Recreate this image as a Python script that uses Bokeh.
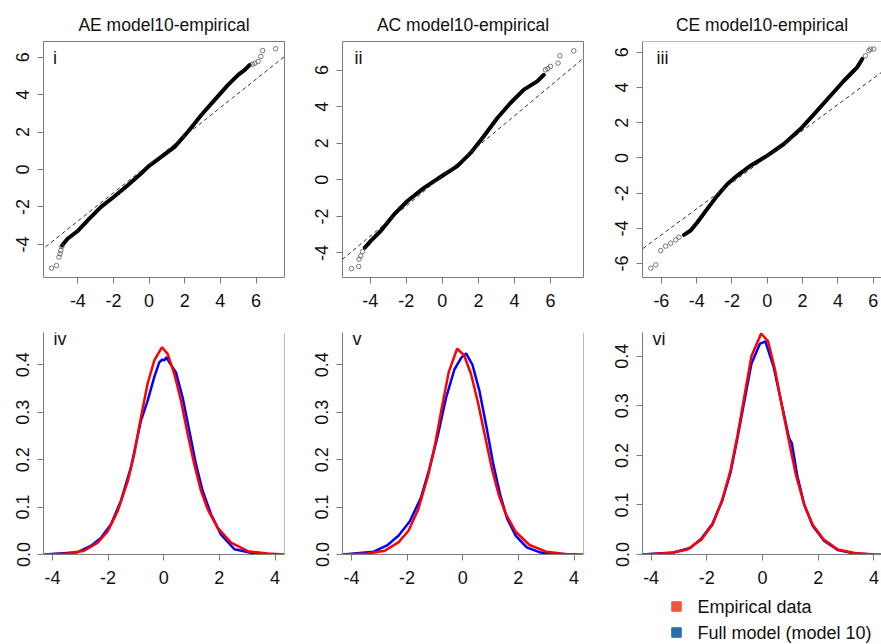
from bokeh.plotting import figure
from bokeh.models import (Range1d, FixedTicker, CustomJSTickFormatter, Slope, Label, Span, Spacer)
from bokeh.layouts import column, row
from bokeh.embed import file_html
from bokeh.resources import INLINE
from bokeh.core.properties import value

FONT = "Liberation Sans"
BOX = "#7a7a7a"
TXT = "#111111"

# ---------------- data ----------------
titles = ["AE model10-empirical", "AC model10-empirical", "CE model10-empirical"]
qq_tags = ["i", "ii", "iii"]
dens_tags = ["iv", "v", "vi"]

# QQ panel i (AE): dense band and sparse tail points (theoretical x, empirical y)
ae_band_x = [-4.89, -4.58, -4.03, -3.45, -2.70, -1.99, -1.20, -0.45, 0.0, 0.68, 1.43, 2.18, 2.93, 3.68, 4.43, 5.00, 5.37, 5.65]
ae_band_y = [-4.06, -3.70, -3.30, -2.72, -2.00, -1.47, -0.84, -0.21, 0.20, 0.68, 1.21, 2.02, 2.91, 3.72, 4.52, 5.06, 5.32, 5.59]
ae_tail_x = [-5.48, -5.20, -5.06, -5.00, -4.96, -4.90, 5.80, 5.93, 6.12, 6.27, 6.37, 7.10]
ae_tail_y = [-5.27, -5.13, -4.68, -4.50, -4.33, -4.11, 5.62, 5.68, 5.77, 6.04, 6.36, 6.45]
ae_line = (0.758, 0.276)   # slope, intercept of reference line

# QQ panel ii (AC)
ac_band_x = [-4.30, -3.97, -3.42, -2.68, -1.94, -1.02, 0.0, 0.83, 1.57, 2.30, 3.05, 3.78, 4.52, 5.26, 5.63]
ac_band_y = [-3.71, -3.34, -2.80, -1.89, -1.16, -0.44, 0.22, 0.75, 1.47, 2.38, 3.38, 4.20, 4.93, 5.38, 5.74]
ac_tail_x = [-5.04, -4.64, -4.62, -4.53, -4.43, 5.72, 5.85, 6.00, 6.42, 6.52, 7.29]
ac_tail_y = [-4.85, -4.74, -4.34, -4.16, -3.92, 6.01, 6.08, 6.20, 6.38, 6.78, 7.05]
ac_line = (0.822, 0.21)

# QQ panel iii (CE)
ce_band_x = [-4.72, -4.34, -3.96, -3.40, -2.83, -2.26, -1.70, -0.95, 0.0, 0.94, 1.88, 2.83, 3.58, 4.34, 4.90, 5.09, 5.38]
ce_band_y = [-4.37, -4.12, -3.65, -2.89, -2.14, -1.48, -1.00, -0.44, 0.13, 0.79, 1.64, 2.68, 3.53, 4.38, 4.95, 5.14, 5.62]
ce_tail_x = [-6.60, -6.32, -6.04, -5.76, -5.47, -5.19, -5.00, 5.56, 5.75, 5.85, 6.03]
ce_tail_y = [-6.26, -6.07, -5.26, -5.01, -4.84, -4.65, -4.50, 5.80, 6.09, 6.18, 6.18]
ce_line = (0.74, 0.07)

qq_x_ticks = [[-4, -2, 0, 2, 4, 6], [-4, -2, 0, 2, 4, 6], [-6, -4, -2, 0, 2, 4, 6]]
qq_y_ticks = [[-4, -2, 0, 2, 4, 6], [-4, -2, 0, 2, 4, 6], [-6, -4, -2, 0, 2, 4, 6]]
qq_x_ranges = [(-5.93, 7.60), (-5.54, 7.83), (-7.07, 6.47)]
qq_y_ranges = [(-5.77, 6.84), (-5.34, 7.56), (-6.79, 6.61)]

# Density panels: empirical (red) and full model (blue)
ae_emp_x = [-4.28, -3.45, -2.86, -2.37, -2.01, -1.65, -1.29, -1.06, -0.82, -0.58, -0.34, -0.06, 0.14, 0.38, 0.62, 0.86, 1.10, 1.34, 1.58, 1.94, 2.42, 3.02, 3.74, 4.33]
ae_emp_y = [0.0, 0.002, 0.008, 0.025, 0.049, 0.092, 0.155, 0.212, 0.289, 0.360, 0.409, 0.437, 0.423, 0.381, 0.324, 0.254, 0.190, 0.134, 0.095, 0.056, 0.025, 0.007, 0.002, 0.0]
ae_mod_x = [-4.28, -3.09, -2.62, -2.26, -1.90, -1.54, -1.18, -0.82, -0.58, -0.34, -0.16, -0.05, 0.02, 0.10, 0.20, 0.44, 0.68, 0.92, 1.16, 1.40, 1.70, 2.06, 2.54, 3.26, 3.74]
ae_mod_y = [0.0, 0.005, 0.018, 0.035, 0.063, 0.113, 0.183, 0.282, 0.324, 0.374, 0.405, 0.411, 0.409, 0.416, 0.405, 0.384, 0.331, 0.261, 0.190, 0.134, 0.085, 0.042, 0.011, 0.002, 0.0]

ac_emp_x = [-4.30, -3.40, -2.80, -2.30, -1.95, -1.60, -1.25, -1.00, -0.75, -0.50, -0.20, 0.05, 0.30, 0.55, 0.80, 1.05, 1.30, 1.55, 1.90, 2.40, 3.00, 3.70, 4.33]
ac_emp_y = [0.0, 0.002, 0.008, 0.026, 0.050, 0.095, 0.165, 0.230, 0.310, 0.385, 0.434, 0.420, 0.380, 0.320, 0.250, 0.180, 0.125, 0.085, 0.048, 0.020, 0.006, 0.001, 0.0]
ac_mod_x = [-4.30, -3.20, -2.70, -2.30, -1.90, -1.50, -1.20, -0.90, -0.60, -0.30, -0.05, 0.12, 0.35, 0.60, 0.85, 1.10, 1.35, 1.60, 1.90, 2.30, 2.80, 3.40]
ac_mod_y = [0.0, 0.006, 0.020, 0.040, 0.070, 0.120, 0.180, 0.250, 0.330, 0.390, 0.415, 0.424, 0.400, 0.345, 0.270, 0.190, 0.125, 0.075, 0.040, 0.015, 0.004, 0.0]

ce_emp_x = [-4.30, -3.30, -2.70, -2.20, -1.80, -1.45, -1.15, -0.90, -0.65, -0.40, -0.05, 0.20, 0.45, 0.70, 0.95, 1.20, 1.50, 1.80, 2.20, 2.70, 3.30, 4.00, 4.27]
ce_emp_y = [0.0, 0.003, 0.010, 0.030, 0.060, 0.110, 0.170, 0.240, 0.320, 0.400, 0.446, 0.430, 0.372, 0.298, 0.228, 0.160, 0.100, 0.060, 0.030, 0.010, 0.003, 0.0, 0.0]
ce_mod_x = [-4.30, -3.20, -2.60, -2.20, -1.80, -1.45, -1.15, -0.90, -0.65, -0.40, -0.10, 0.10, 0.40, 0.70, 0.95, 1.05, 1.25, 1.50, 1.80, 2.20, 2.70, 3.30, 4.00]
ce_mod_y = [0.0, 0.004, 0.013, 0.032, 0.062, 0.108, 0.165, 0.235, 0.310, 0.385, 0.425, 0.430, 0.378, 0.300, 0.235, 0.225, 0.158, 0.100, 0.058, 0.028, 0.009, 0.002, 0.0]

dens_x_ticks = [-4, -2, 0, 2, 4]
dens_y_ticks = [0.0, 0.1, 0.2, 0.3, 0.4]
dens_x_ranges = [(-4.32, 4.34), (-4.32, 4.34), (-4.31, 4.27)]
dens_y_ranges = [(0.0, 0.468), (0.0, 0.468), (0.0, 0.448)]

legend_labels = ["Empirical data", "Full model (model 10)"]
legend_colors = ["#F4553E", "#2B6CB0"]
legend_rows = [0, 1]

qq_data = [(ae_band_x, ae_band_y, ae_tail_x, ae_tail_y, ae_line),
           (ac_band_x, ac_band_y, ac_tail_x, ac_tail_y, ac_line),
           (ce_band_x, ce_band_y, ce_tail_x, ce_tail_y, ce_line)]
dens_data = [(ae_emp_x, ae_emp_y, ae_mod_x, ae_mod_y),
             (ac_emp_x, ac_emp_y, ac_mod_x, ac_mod_y),
             (ce_emp_x, ce_emp_y, ce_mod_x, ce_mod_y)]

# ---------------- layout ----------------
col_borders = [(43, 16, 241), (42, 17, 241), (42, 0, 239)]  # left, right, frame width
INT_FMT = "return tick.toFixed(0);"
DEC_FMT = "return tick.toFixed(1);"
TICK_FS = "18px"


def style_axis(ax, ticks, code, vertical=False, line=True):
    ax.ticker = FixedTicker(ticks=ticks)
    ax.formatter = CustomJSTickFormatter(code=code)
    ax.major_tick_out = 6
    ax.major_tick_in = 0
    ax.minor_tick_line_color = None
    ax.major_tick_line_color = BOX
    ax.axis_line_color = BOX if line else None
    ax.major_label_text_font = FONT
    ax.major_label_text_font_size = TICK_FS
    ax.major_label_text_color = TXT
    if vertical:
        ax.major_label_orientation = "vertical"
        ax.major_label_standoff = 8
    else:
        ax.major_label_standoff = 10


def base_fig(i, fh, bt, bb, xr, yr):
    bl, br, fw = col_borders[i]
    p = figure(frame_width=fw, frame_height=fh, min_border_left=bl, min_border_right=br,
               min_border_top=bt, min_border_bottom=bb,
               x_range=Range1d(*xr), y_range=Range1d(*yr),
               toolbar_location=None, output_backend="svg")
    p.grid.visible = False
    p.background_fill_color = "white"
    p.border_fill_color = "white"
    return p


top_figs = []
for i in range(3):
    bx, by, tx, ty, (g, b) = qq_data[i]
    p = base_fig(i, 236, 41, 33, qq_x_ranges[i], qq_y_ranges[i])
    full_box = i < 2
    p.outline_line_color = BOX if full_box else None
    style_axis(p.xaxis[0], qq_x_ticks[i], INT_FMT, line=not full_box)
    style_axis(p.yaxis[0], qq_y_ticks[i], INT_FMT, vertical=True, line=not full_box)
    if not full_box:
        p.add_layout(Span(location=qq_y_ranges[i][1], dimension="width", line_color=BOX, line_width=1))
    p.title.text = titles[i]
    p.title.align = "center"
    p.title.text_font = FONT
    p.title.text_font_size = "17.5px"
    p.title.text_font_style = "normal"
    p.title.text_color = TXT
    p.title.standoff = 14
    p.add_layout(Slope(gradient=g, y_intercept=b, line_color="#333333", line_width=1, line_dash="4 3"))
    p.line(bx, by, line_color="black", line_width=4, line_cap="round", line_join="round")
    p.scatter(tx, ty, marker="circle", size=4.5, fill_color=None, line_color="#555555", line_width=0.8)
    p.add_layout(Label(x=[9.5, 12, 14][i], y=220, x_units="screen", y_units="screen", text=qq_tags[i],
                       text_font=FONT, text_font_size="18px", text_color=TXT, text_baseline="alphabetic"))
    top_figs.append(p)

bot_figs = []
for i in range(3):
    ex, ey, mx, my = dens_data[i]
    p = base_fig(i, 222, 22, 38, dens_x_ranges[i], dens_y_ranges[i])
    p.outline_line_color = None
    style_axis(p.xaxis[0], dens_x_ticks, INT_FMT)
    style_axis(p.yaxis[0], dens_y_ticks, DEC_FMT, vertical=True)
    if i < 2:
        p.add_layout(Span(location=dens_x_ranges[i][1], dimension="height", line_color=BOX, line_width=1))
    p.line(mx, my, line_color="blue", line_width=2.5)
    p.line(ex, ey, line_color="red", line_width=2.5)
    p.add_layout(Label(x=10, y=216, x_units="screen", y_units="screen", text=dens_tags[i],
                       text_font=FONT, text_font_size="18px", text_color=TXT, text_baseline="alphabetic"))
    bot_figs.append(p)

# legend strip (rows mapped through the figure's own y scale)
lp = figure(width=281, height=52, x_axis_type=None, y_axis_type=None, min_border=0,
            x_range=Range1d(0, 281), y_range=Range1d(1.4615, -0.5385),
            toolbar_location=None, output_backend="svg")
lp.outline_line_color = None
lp.grid.visible = False
lp.scatter(x=76, y=legend_rows, marker="square", size=9.5, color=legend_colors)
lp.text(x=97, y=legend_rows, text=legend_labels, text_baseline="middle", text_align="left",
        text_font=value(FONT), text_font_size=value("18px"), text_color=TXT)

layout = column(row(*top_figs), row(*bot_figs), row(Spacer(width=600, height=52), lp))
open("out.html", "w").write(file_html(layout, INLINE))
